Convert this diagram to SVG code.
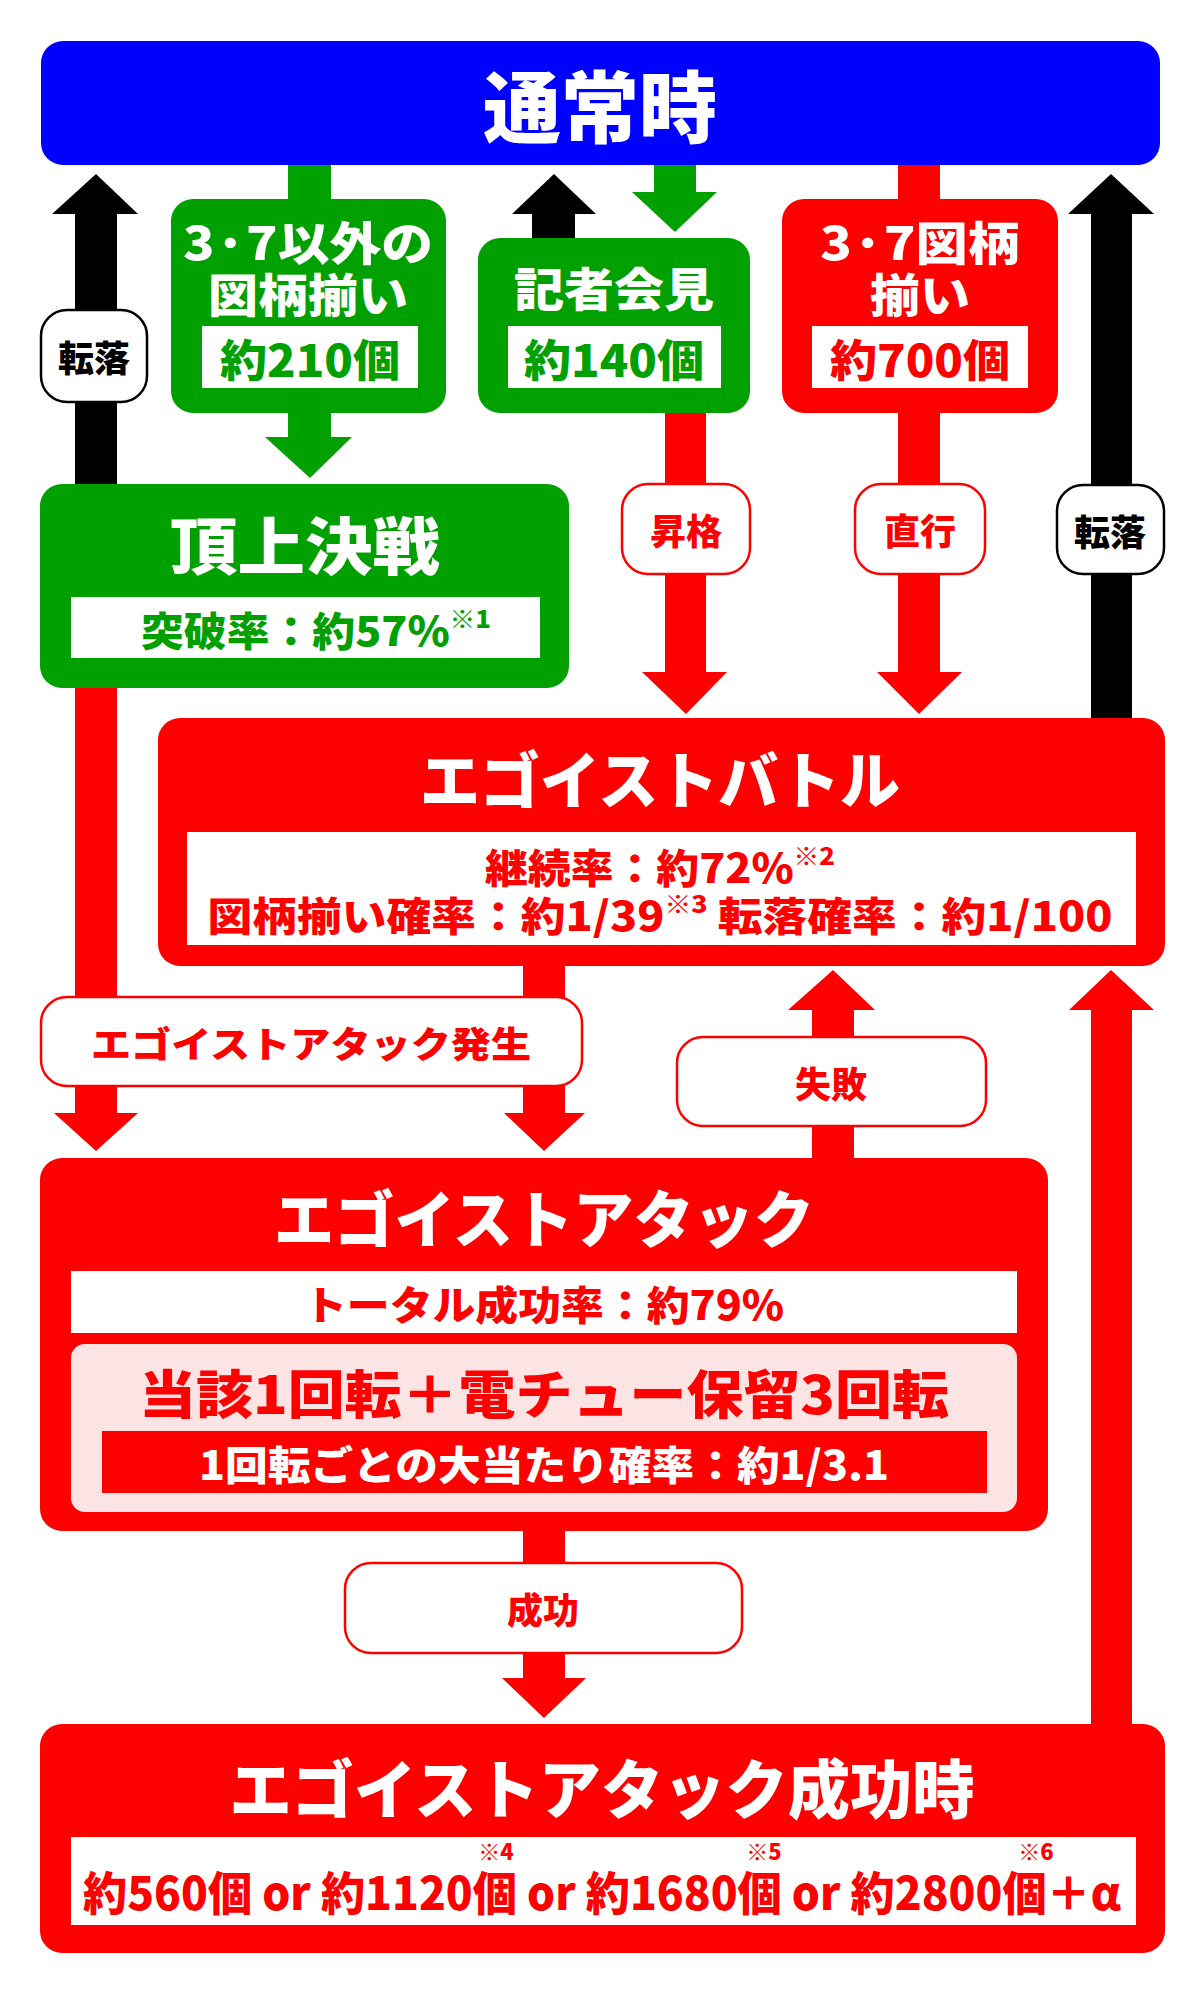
<svg xmlns="http://www.w3.org/2000/svg" width="1200" height="1994" viewBox="0 0 1200 1994">
<style>
text{font-family:"Noto Sans CJK JP","Noto Sans",sans-serif;font-weight:900;text-anchor:middle;dominant-baseline:central}
.w{fill:#fff}.r{fill:#f00}.g{fill:#00a000}.k{fill:#000}
.lbl{fill:#fff;stroke-width:2.5}
.sup{font-size:60%}
</style>
<rect width="1200" height="1994" fill="#fff"/>
<g id="connectors">
 <rect x="75" y="210" width="42" height="276" fill="#000"/>
 <polygon points="52,214 96,174 138,214" fill="#000"/>
 <rect x="532" y="210" width="43" height="30" fill="#000"/>
 <polygon points="512,214 554,174 596,214" fill="#000"/>
 <rect x="1091" y="210" width="41" height="510" fill="#000"/>
 <polygon points="1068,214 1111,174 1154,214" fill="#000"/>
 <rect x="288" y="160" width="43" height="42" fill="#00a000"/>
 <rect x="288" y="410" width="43" height="30" fill="#00a000"/>
 <polygon points="265,437 310,478 352,437" fill="#00a000"/>
 <rect x="654" y="160" width="42" height="35" fill="#00a000"/>
 <polygon points="632,192 675,232 717,192" fill="#00a000"/>
 <rect x="898" y="160" width="42" height="42" fill="#f00"/>
 <rect x="665" y="410" width="41" height="265" fill="#f00"/>
 <polygon points="642,672 686,714 727,672" fill="#f00"/>
 <rect x="898" y="410" width="42" height="265" fill="#f00"/>
 <polygon points="877,672 919,714 962,672" fill="#f00"/>
 <rect x="75" y="685" width="42" height="430" fill="#f00"/>
 <polygon points="54,1113 96,1151 138,1113" fill="#f00"/>
 <rect x="523" y="960" width="42" height="155" fill="#f00"/>
 <polygon points="504,1113 544,1151 585,1113" fill="#f00"/>
 <rect x="812" y="1006" width="42" height="156" fill="#f00"/>
 <polygon points="788,1010 833,970 875,1010" fill="#f00"/>
 <rect x="1091" y="1006" width="41" height="722" fill="#f00"/>
 <polygon points="1069,1010 1111,970 1154,1010" fill="#f00"/>
 <rect x="523" y="1525" width="42" height="155" fill="#f00"/>
 <polygon points="502,1678 544,1718 586,1678" fill="#f00"/>
 <rect class="lbl" x="41" y="310" width="106" height="92" rx="26" stroke="#000"/>
 <text x="94" y="356" class="k" font-size="36">転落</text>
 <rect class="lbl" x="1057" y="485" width="107" height="89" rx="26" stroke="#000"/>
 <text x="1110" y="530" class="k" font-size="36">転落</text>
 <rect class="lbl" x="622" y="484" width="128" height="90" rx="26" stroke="#f00"/>
 <text x="686" y="529" class="r" font-size="36">昇格</text>
 <rect class="lbl" x="855" y="484" width="130" height="90" rx="26" stroke="#f00"/>
 <text x="920" y="529" class="r" font-size="36">直行</text>
 <rect class="lbl" x="41" y="997" width="541" height="89" rx="26" stroke="#f00"/>
 <text x="311" y="1042" class="r" font-size="36" textLength="440" lengthAdjust="spacingAndGlyphs">エゴイストアタック発生</text>
 <rect class="lbl" x="677" y="1037" width="309" height="89" rx="26" stroke="#f00"/>
 <text x="831" y="1082" class="r" font-size="36">失敗</text>
 <rect class="lbl" x="345" y="1563" width="397" height="90" rx="26" stroke="#f00"/>
 <text x="543" y="1608" class="r" font-size="36">成功</text>
</g>
<g id="normal">
 <rect x="41" y="41" width="1119" height="124" rx="22" fill="#0000ff"/>
 <text x="600" y="103" class="w" font-size="78">通常時</text>
</g>
<g id="other-symbols">
 <rect x="171" y="199" width="275" height="214" rx="22" fill="#00a000"/>
 <text x="308" y="240" class="w" font-size="46" textLength="250" lengthAdjust="spacingAndGlyphs">3·7以外の</text>
 <text x="308" y="292" class="w" font-size="46" textLength="200" lengthAdjust="spacingAndGlyphs">図柄揃い</text>
 <rect x="202" y="326" width="216" height="62" fill="#fff"/>
 <text x="310" y="358" class="g" font-size="44" textLength="180" lengthAdjust="spacingAndGlyphs">約210個</text>
</g>
<g id="press">
 <rect x="478" y="238" width="272" height="175" rx="22" fill="#00a000"/>
 <text x="614" y="286" class="w" font-size="46" textLength="200" lengthAdjust="spacingAndGlyphs">記者会見</text>
 <rect x="508" y="326" width="213" height="62" fill="#fff"/>
 <text x="614" y="358" class="g" font-size="44" textLength="180" lengthAdjust="spacingAndGlyphs">約140個</text>
</g>
<g id="symbols37">
 <rect x="782" y="199" width="276" height="214" rx="22" fill="#f00"/>
 <text x="920" y="240" class="w" font-size="46" textLength="200" lengthAdjust="spacingAndGlyphs">3·7図柄</text>
 <text x="920" y="292" class="w" font-size="46" textLength="100" lengthAdjust="spacingAndGlyphs">揃い</text>
 <rect x="812" y="326" width="216" height="62" fill="#fff"/>
 <text x="920" y="358" class="r" font-size="44" textLength="180" lengthAdjust="spacingAndGlyphs">約700個</text>
</g>
<g id="summit">
 <rect x="40" y="484" width="529" height="204" rx="22" fill="#00a000"/>
 <text x="305" y="543" class="w" font-size="62" textLength="270" lengthAdjust="spacingAndGlyphs">頂上決戦</text>
 <rect x="71" y="597" width="469" height="61" fill="#fff"/>
 <text x="316" y="629" class="g" font-size="40" textLength="350" lengthAdjust="spacingAndGlyphs">突破率：約57%<tspan class="sup" dy="-12">※1</tspan></text>
</g>
<g id="battle">
 <rect x="158" y="718" width="1007" height="248" rx="22" fill="#f00"/>
 <text x="660" y="777" class="w" font-size="62" textLength="480" lengthAdjust="spacingAndGlyphs">エゴイストバトル</text>
 <rect x="187" y="832" width="949" height="113" fill="#fff"/>
 <text x="660" y="866" class="r" font-size="40" textLength="350" lengthAdjust="spacingAndGlyphs">継続率：約72%<tspan class="sup" dy="-12">※2</tspan></text>
 <text x="660" y="914" class="r" font-size="40" textLength="905" lengthAdjust="spacingAndGlyphs">図柄揃い確率：約1/39<tspan class="sup" dy="-12">※3</tspan><tspan dy="12"> 転落確率：約1/100</tspan></text>
</g>
<g id="attack">
 <rect x="40" y="1158" width="1008" height="373" rx="22" fill="#f00"/>
 <text x="544" y="1216" class="w" font-size="62" textLength="540" lengthAdjust="spacingAndGlyphs">エゴイストアタック</text>
 <rect x="71" y="1271" width="946" height="62" fill="#fff"/>
 <text x="544" y="1303" class="r" font-size="40" textLength="480" lengthAdjust="spacingAndGlyphs">トータル成功率：約79%</text>
 <rect x="71" y="1344" width="946" height="168" rx="14" fill="#fde4e4"/>
 <text x="544" y="1391" class="r" font-size="52" textLength="810" lengthAdjust="spacingAndGlyphs">当該1回転＋電チュー保留3回転</text>
 <rect x="102" y="1431" width="885" height="62" fill="#f00"/>
 <text x="544" y="1463" class="w" font-size="40" textLength="690" lengthAdjust="spacingAndGlyphs">1回転ごとの大当たり確率：約1/3.1</text>
</g>
<g id="success">
 <rect x="40" y="1724" width="1125" height="229" rx="22" fill="#f00"/>
 <text x="602" y="1785" class="w" font-size="64" textLength="745" lengthAdjust="spacingAndGlyphs">エゴイストアタック成功時</text>
 <rect x="71" y="1837" width="1065" height="88" fill="#fff"/>
 <text x="602" y="1890" class="r" font-size="46" textLength="1038" lengthAdjust="spacingAndGlyphs">約560個 or 約1120個 or 約1680個 or 約2800個＋α</text>
 <text x="496" y="1850" class="r" font-size="22">※4</text>
 <text x="764" y="1850" class="r" font-size="22">※5</text>
 <text x="1036" y="1850" class="r" font-size="22">※6</text>
</g>
</svg>
